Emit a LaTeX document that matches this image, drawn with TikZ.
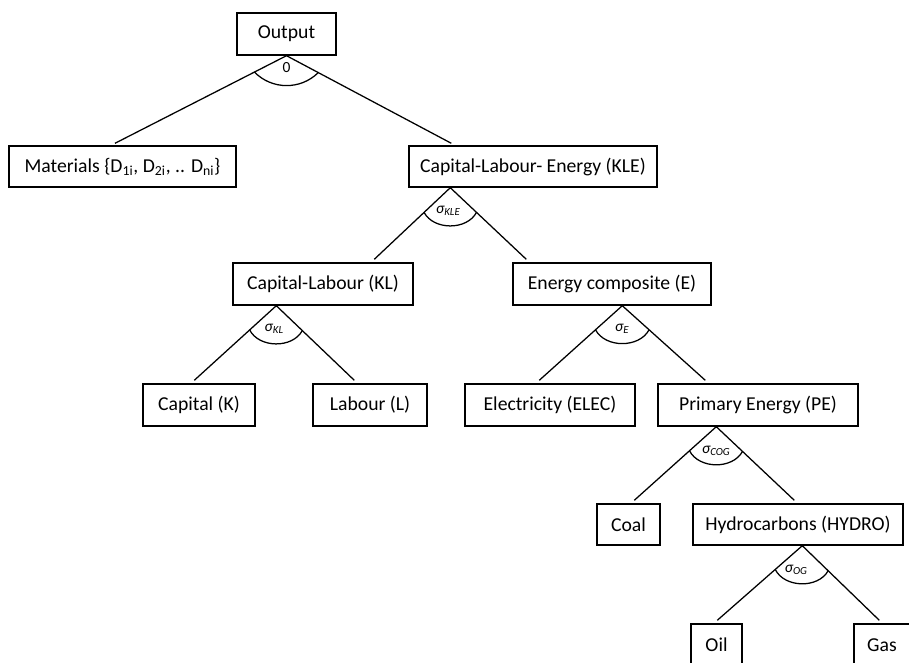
\documentclass[tikz,border=0pt]{standalone}
\usepackage{fontspec}
\setmainfont{Carlito}
\usetikzlibrary{calc}

% two legs from an apex plus the elasticity arc between them
\newcommand\forkdraw[4]{%
  \draw[link] (#2) -- (#1) -- (#3);
  \draw[link] ($(#1)!0.9cm!(#2)$) to[bend right=#4] ($(#1)!0.9cm!(#3)$);
}

\begin{document}
\begin{tikzpicture}[x=0.025cm,y=-0.025cm,
  box/.style={draw,line width=1pt,inner sep=0pt,font=\fontsize{14}{16}\selectfont},
  bx/.style 2 args={box,minimum width=#1*0.025cm,minimum height=#2*0.025cm},
  link/.style={line width=0.9pt},
  sig/.style={inner sep=0pt,font=\fontsize{11}{13}\selectfont\itshape}]
\useasboundingbox (0,0) rectangle (909,663);
\clip (0,0) rectangle (909,663);

% boxes
\node[bx={99}{42}]  (out)  at (286.5,34)   {Output};
\node[bx={227}{41}] (mat)  at (122.5,166.5) {Materials \{D\textsubscript{1i}, D\textsubscript{2i}, .. D\textsubscript{ni}\}};
\node[bx={248}{41}] (kle)  at (533,166.5)  {Capital-Labour- Energy (KLE)};
\node[bx={180}{42}] (kl)   at (323,284)    {Capital-Labour (KL)};
\node[bx={198}{42}] (e)    at (612,284)    {Energy composite (E)};
\node[bx={112}{42}] (cap)  at (199,405)    {Capital (K)};
\node[bx={114}{42}] (lab)  at (370,405)    {Labour (L)};
\node[bx={170}{42}] (elec) at (550,405)    {Electricity (ELEC)};
\node[bx={200}{42}] (pe)   at (758,405)    {Primary Energy (PE)};
\node[bx={63}{41}]  (coal) at (628.5,524.5) {Coal};
\node[bx={210}{41}] (hyd)  at (798,524.5)  {Hydrocarbons (HYDRO)};
\node[bx={51}{42}]  (oil)  at (716.5,645)  {Oil};
\node[bx={56}{42}]  (gas)  at (882,645)    {Gas};

% apexes and leg ends
\coordinate (outA)  at (out.south);
\coordinate (matT)  at ([shift={(-7.5,-2)}]mat.north);
\coordinate (kleT)  at ([shift={(43,-2)}]kle.north west);
\coordinate (kleA)  at ([shift={(42,0)}]kle.south west);
\coordinate (klT)   at ([shift={(142,-3)}]kl.north west);
\coordinate (eT)    at ([shift={(14,-3)}]e.north west);
\coordinate (klA)   at ([shift={(44,0)}]kl.south west);
\coordinate (capT)  at ([shift={(52,-3)}]cap.north west);
\coordinate (labT)  at ([shift={(42,-3)}]lab.north west);
\coordinate (eA)    at ([shift={(110,0)}]e.south west);
\coordinate (elecT) at ([shift={(75,-3)}]elec.north west);
\coordinate (peT)   at ([shift={(48,-3)}]pe.north west);
\coordinate (peA)   at ([shift={(59,0)}]pe.south west);
\coordinate (coalT) at ([shift={(38,-3)}]coal.north west);
\coordinate (hydT)  at ([shift={(102,-3)}]hyd.north west);
\coordinate (hydA)  at ([shift={(110,0)}]hyd.south west);
\coordinate (oilT)  at ([shift={(27,-3)}]oil.north west);
\coordinate (gasT)  at ([shift={(26,-3)}]gas.north west);

% nesting structure
\forkdraw{outA}{matT}{kleT}{45}
\forkdraw{kleA}{klT}{eT}{62}
\forkdraw{klA}{capT}{labT}{62}
\forkdraw{eA}{elecT}{peT}{62}
\forkdraw{peA}{coalT}{hydT}{62}
\forkdraw{hydA}{oilT}{gasT}{62}

% substitution elasticities
\node[sig,font=\fontsize{11}{13}\selectfont] (s0) at ([shift={(0,12)}]outA) {0};
\node[sig] (sKLE) at ([shift={(-2,23)}]kleA) {σ\textsubscript{KLE}};
\node[sig] (sKL)  at ([shift={(-2,23)}]klA)  {σ\textsubscript{KL}};
\node[sig] (sE)   at ([shift={(0,23)}]eA)    {σ\textsubscript{E}};
\node[sig] (sCOG) at ([shift={(0,24)}]peA)   {σ\textsubscript{COG}};
\node[sig] (sOG)  at ([shift={(-6,24)}]hydA) {σ\textsubscript{OG}};
\end{tikzpicture}
\end{document}
